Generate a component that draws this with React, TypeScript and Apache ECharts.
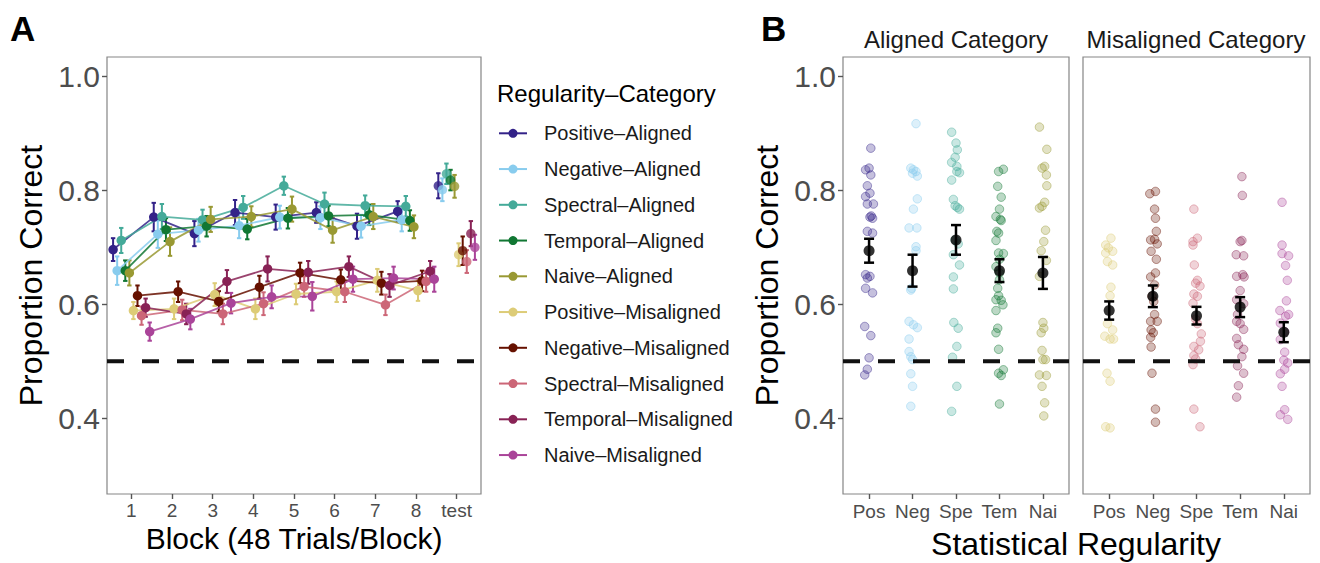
import React, { useEffect, useRef } from "react";
import * as echarts from "echarts";

// ---------- Panel A data ----------
const blockTicks = [1, 2, 3, 4, 5, 6, 7, 8, 9];
const blockLabels = ["1", "2", "3", "4", "5", "6", "7", "8", "test"];
const groupNames = [
  "Positive–Aligned",
  "Negative–Aligned",
  "Spectral–Aligned",
  "Temporal–Aligned",
  "Naive–Aligned",
  "Positive–Misaligned",
  "Negative–Misaligned",
  "Spectral–Misaligned",
  "Temporal–Misaligned",
  "Naive–Misaligned",
];
const groupColors = [
  "#332288", "#88CCEE", "#44AA99", "#117733", "#999933",
  "#DDCC77", "#661100", "#CC6677", "#882255", "#AA4499",
];
// blocks 1..8 then test
const positiveAligned = [0.696, 0.753, 0.724, 0.761, 0.753, 0.761, 0.737, 0.763, 0.808];
const negativeAligned = [0.659, 0.723, 0.73, 0.738, 0.753, 0.752, 0.737, 0.748, 0.801];
const spectralAligned = [0.712, 0.754, 0.748, 0.77, 0.808, 0.776, 0.773, 0.772, 0.829];
const temporalAligned = [0.659, 0.731, 0.737, 0.732, 0.751, 0.755, 0.757, 0.747, 0.818];
const naiveAligned = [0.655, 0.71, 0.749, 0.754, 0.767, 0.73, 0.754, 0.736, 0.807];
const positiveMisaligned = [0.589, 0.592, 0.617, 0.592, 0.618, 0.622, 0.642, 0.624, 0.687];
const negativeMisaligned = [0.615, 0.622, 0.605, 0.63, 0.655, 0.643, 0.637, 0.641, 0.694];
const spectralMisaligned = [0.58, 0.59, 0.583, 0.601, 0.631, 0.622, 0.599, 0.64, 0.675];
const temporalMisaligned = [0.594, 0.583, 0.64, 0.662, 0.656, 0.666, 0.633, 0.658, 0.724];
const naiveMisaligned = [0.552, 0.574, 0.602, 0.613, 0.614, 0.644, 0.646, 0.644, 0.7];

const positiveAlignedSE = [0.02, 0.025, 0.022, 0.022, 0.022, 0.018, 0.022, 0.018, 0.022];
const negativeAlignedSE = [0.025, 0.024, 0.02, 0.022, 0.02, 0.02, 0.02, 0.02, 0.02];
const spectralAlignedSE = [0.022, 0.022, 0.018, 0.02, 0.016, 0.02, 0.018, 0.018, 0.018];
const temporalAlignedSE = [0.018, 0.02, 0.018, 0.018, 0.018, 0.018, 0.018, 0.018, 0.018];
const naiveAlignedSE = [0.022, 0.025, 0.022, 0.018, 0.022, 0.022, 0.022, 0.02, 0.02];
const positiveMisalignedSE = [0.015, 0.018, 0.02, 0.018, 0.018, 0.018, 0.02, 0.018, 0.02];
const negativeMisalignedSE = [0.018, 0.018, 0.018, 0.02, 0.018, 0.018, 0.02, 0.018, 0.025];
const spectralMisalignedSE = [0.016, 0.018, 0.018, 0.02, 0.018, 0.018, 0.018, 0.018, 0.02];
const temporalMisalignedSE = [0.016, 0.018, 0.02, 0.022, 0.02, 0.018, 0.02, 0.018, 0.022];
const naiveMisalignedSE = [0.016, 0.018, 0.018, 0.02, 0.025, 0.022, 0.02, 0.022, 0.022];

const groupMeans = [
  positiveAligned, negativeAligned, spectralAligned, temporalAligned, naiveAligned,
  positiveMisaligned, negativeMisaligned, spectralMisaligned, temporalMisaligned, naiveMisaligned,
];
const groupSE = [
  positiveAlignedSE, negativeAlignedSE, spectralAlignedSE, temporalAlignedSE, naiveAlignedSE,
  positiveMisalignedSE, negativeMisalignedSE, spectralMisalignedSE, temporalMisalignedSE, naiveMisalignedSE,
];

// ---------- Panel B data ----------
const regularityLabels = ["Pos", "Neg", "Spe", "Tem", "Nai"];
const yTicks = [0.4, 0.6, 0.8, 1.0];
// [horizontal jitter (category units), proportion correct]
const alignedPos = [
  [0.04, 0.874], [0, 0.839], [-0.08, 0.836], [0.04, 0.827], [-0.04, 0.808], [0.02, 0.795],
  [-0.08, 0.789], [0.1, 0.776], [-0.04, 0.776], [0.05, 0.755], [0.08, 0.751], [0.02, 0.753],
  [-0.04, 0.728], [0.08, 0.725], [-0.08, 0.652], [0.02, 0.649], [-0.04, 0.646], [-0.08, 0.628],
  [0.08, 0.62], [-0.1, 0.561], [0.04, 0.545], [0, 0.506], [-0.04, 0.486], [-0.1, 0.476],
];
const alignedNeg = [
  [0.08, 0.917], [-0.04, 0.839], [0.02, 0.836], [0.08, 0.833], [0, 0.83], [0.11, 0.825],
  [0.11, 0.785], [0.02, 0.767], [-0.08, 0.734], [0.1, 0.734], [0.08, 0.701], [0.08, 0.694],
  [-0.04, 0.625], [-0.02, 0.628], [-0.08, 0.57], [0.02, 0.564], [0.11, 0.559], [-0.08, 0.539],
  [-0.08, 0.517], [-0.04, 0.508], [0, 0.503], [-0.04, 0.478], [0, 0.456], [-0.04, 0.421],
];
const alignedSpe = [
  [-0.1, 0.902], [0, 0.883], [0.03, 0.871], [-0.02, 0.858], [-0.1, 0.849], [0.02, 0.842],
  [0.08, 0.831], [0.02, 0.833], [-0.1, 0.818], [-0.06, 0.784], [-0.02, 0.773], [0.03, 0.77],
  [0.08, 0.767], [-0.02, 0.713], [0.05, 0.706], [-0.06, 0.687], [0.08, 0.669], [-0.06, 0.648],
  [-0.06, 0.627], [-0.05, 0.568], [0.05, 0.558], [0.02, 0.526], [-0.08, 0.507], [0.02, 0.456],
  [-0.1, 0.412],
];
const alignedTem = [
  [0.09, 0.837], [-0.02, 0.833], [-0.04, 0.807], [0.04, 0.788], [0, 0.767], [-0.08, 0.754],
  [0.02, 0.749], [0.04, 0.747], [-0.06, 0.728], [-0.02, 0.725], [-0.08, 0.712], [-0.02, 0.69],
  [0.09, 0.689], [0, 0.679], [-0.08, 0.666], [0, 0.655], [0, 0.643], [-0.04, 0.628],
  [-0.02, 0.615], [-0.08, 0.608], [0.04, 0.607], [0.08, 0.599], [-0.08, 0.589], [-0.04, 0.558],
  [-0.08, 0.55], [-0.02, 0.521], [0.09, 0.485], [-0.02, 0.479], [0.04, 0.475], [0, 0.425],
];
const alignedNai = [
  [-0.08, 0.911], [0.09, 0.872], [0.04, 0.842], [-0.02, 0.839], [0.08, 0.827], [0.09, 0.808],
  [0.04, 0.779], [-0.08, 0.769], [-0.02, 0.772], [0.06, 0.73], [0.02, 0.71], [-0.04, 0.694],
  [0.08, 0.677], [-0.08, 0.649], [0, 0.568], [-0.04, 0.55], [0.02, 0.558], [-0.02, 0.519],
  [0, 0.503], [0.06, 0.503], [-0.08, 0.476], [0.08, 0.475], [-0.02, 0.456], [0.04, 0.427],
  [0.02, 0.404],
];
const misalignedPos = [
  [0.04, 0.716], [-0.08, 0.704], [-0.02, 0.699], [0.08, 0.693], [-0.08, 0.69], [-0.04, 0.675],
  [0.08, 0.669], [0.04, 0.63], [0.02, 0.615], [-0.04, 0.566], [0.08, 0.555], [-0.1, 0.544],
  [0.02, 0.539], [0.1, 0.539], [-0.05, 0.479], [0.02, 0.465], [-0.08, 0.385], [0.02, 0.383],
];
const misalignedNeg = [
  [-0.07, 0.794], [0.06, 0.798], [0.04, 0.767], [0.06, 0.751], [0.08, 0.728], [-0.05, 0.713],
  [0.04, 0.714], [0.1, 0.706], [-0.04, 0.693], [0.08, 0.679], [0.06, 0.655], [-0.05, 0.648],
  [0.04, 0.634], [-0.02, 0.614], [0.02, 0.605], [0.04, 0.582], [-0.05, 0.57], [0.1, 0.57],
  [-0.04, 0.555], [0.01, 0.55], [-0.05, 0.542], [-0.04, 0.525], [-0.02, 0.479], [0.06, 0.416],
  [0.06, 0.393],
];
const misalignedSpe = [
  [-0.06, 0.767], [0.02, 0.716], [-0.08, 0.71], [-0.08, 0.704], [-0.05, 0.669], [0.02, 0.642],
  [-0.02, 0.637], [0.08, 0.632], [-0.06, 0.618], [0.02, 0.614], [-0.08, 0.602], [-0.02, 0.574],
  [0.02, 0.566], [0.11, 0.548], [0.09, 0.535], [-0.06, 0.526], [0.05, 0.52], [-0.06, 0.51],
  [-0.02, 0.504], [-0.08, 0.494], [-0.06, 0.416], [0.08, 0.385],
];
const misalignedTem = [
  [0.04, 0.824], [0.05, 0.791], [0.04, 0.712], [0, 0.71], [-0.09, 0.687], [0.08, 0.685],
  [-0.08, 0.649], [0.06, 0.652], [0.09, 0.648], [0, 0.624], [-0.08, 0.608], [0.08, 0.601],
  [-0.06, 0.582], [-0.08, 0.57], [0, 0.566], [0.08, 0.556], [-0.08, 0.54], [-0.04, 0.529],
  [0.08, 0.521], [0.04, 0.508], [-0.06, 0.492], [0.08, 0.479], [-0.04, 0.457], [-0.08, 0.437],
];
const misalignedNai = [
  [-0.04, 0.779], [-0.04, 0.704], [-0.04, 0.689], [0.11, 0.685], [0.04, 0.668], [0.08, 0.642],
  [0.06, 0.606], [-0.09, 0.589], [0.11, 0.582], [0.04, 0.579], [-0.08, 0.567], [0.02, 0.552],
  [-0.08, 0.538], [0.02, 0.516], [0, 0.502], [0.09, 0.497], [0.02, 0.486], [-0.08, 0.478],
  [-0.04, 0.456], [0.02, 0.415], [-0.08, 0.406], [0.09, 0.398],
];
const alignedMeans = [0.694, 0.659, 0.713, 0.659, 0.655];
const alignedMeanSE = [0.021, 0.028, 0.026, 0.02, 0.028];
const misalignedMeans = [0.589, 0.614, 0.58, 0.595, 0.551];
const misalignedMeanSE = [0.016, 0.019, 0.0155, 0.0175, 0.0175];

const chanceLevel = 0.5;

const FONT = "'Liberation Sans', Arial, Helvetica, sans-serif";

function rgba(hex: string, a: number) {
  const n = parseInt(hex.slice(1), 16);
  return `rgba(${(n >> 16) & 255},${(n >> 8) & 255},${n & 255},${a})`;
}

function errorBarRender(color: string, capHalf: number, lw: number) {
  return (_params: any, api: any) => {
    const x = api.value(0);
    const lo = api.coord([x, api.value(1)]);
    const hi = api.coord([x, api.value(2)]);
    const style = { stroke: color, lineWidth: lw };
    return {
      type: "group",
      children: [
        { type: "line", shape: { x1: lo[0], y1: lo[1], x2: hi[0], y2: hi[1] }, style },
        { type: "line", shape: { x1: lo[0] - capHalf, y1: lo[1], x2: lo[0] + capHalf, y2: lo[1] }, style },
        { type: "line", shape: { x1: hi[0] - capHalf, y1: hi[1], x2: hi[0] + capHalf, y2: hi[1] }, style },
      ],
    };
  };
}

export default function App() {
  const ref = useRef<HTMLDivElement>(null);

  useEffect(() => {
    if (!ref.current) return;
    const chart = echarts.init(ref.current, null, { renderer: "svg" });

    const Y_MIN = 0.267;
    const Y_MAX = 1.034;
    const tickStyle = { color: "#555", width: 1.4 };
    const gridStyle = { show: true, borderColor: "#858585", borderWidth: 1.2, backgroundColor: "transparent" };

    const yAxisBase = (gridIndex: number, showLabels: boolean) => ({
      gridIndex,
      type: "value",
      min: Y_MIN,
      max: Y_MAX,
      axisLine: { show: false },
      splitLine: { show: false },
      axisTick: { show: showLabels, customValues: yTicks, length: 5, lineStyle: tickStyle },
      axisLabel: {
        show: showLabels,
        customValues: yTicks,
        formatter: (v: number) => v.toFixed(1),
        fontSize: 30,
        color: "#4d4d4d",
        fontFamily: FONT,
        margin: 7,
      },
      name: showLabels ? "Proportion Correct" : "",
      nameLocation: "middle",
      nameRotate: 90,
      nameGap: 60,
      nameTextStyle: { fontSize: 32, color: "#000", fontFamily: FONT },
    });

    const series: any[] = [];

    // ---- Panel A ----
    groupNames.forEach((name, gi) => {
      const off = (gi - 4.5) * 0.1;
      const color = groupColors[gi];
      const means = groupMeans[gi];
      const se = groupSE[gi];
      const bars = blockTicks.map((b, i) => [b + off, means[i] - se[i], means[i] + se[i]]);
      series.push({
        type: "custom",
        name: name + " SE",
        xAxisIndex: 0,
        yAxisIndex: 0,
        renderItem: errorBarRender(color, 2.2, 2),
        encode: { x: 0, y: [1, 2] },
        data: bars,
        silent: true,
        z: 2,
      });
      series.push({
        type: "line",
        name,
        xAxisIndex: 0,
        yAxisIndex: 0,
        data: means.slice(0, 8).map((v, i) => [blockTicks[i] + off, v]),
        symbol: "circle",
        symbolSize: 9.5,
        showSymbol: true,
        itemStyle: { color },
        lineStyle: { color, width: 1.8, opacity: 0.85 },
        z: 3,
      });
      series.push({
        type: "scatter",
        name: name + " test",
        xAxisIndex: 0,
        yAxisIndex: 0,
        data: [[blockTicks[8] + off, means[8]]],
        symbol: "circle",
        symbolSize: 9.5,
        itemStyle: { color },
        z: 3,
      });
    });

    // chance lines
    const dashed = (xi: number, xmin: number, xmax: number) => ({
      type: "line",
      xAxisIndex: xi,
      yAxisIndex: xi,
      data: [[xmin, chanceLevel], [xmax, chanceLevel]],
      symbol: "none",
      lineStyle: { color: "#111", width: 4, type: [17, 18] },
      silent: true,
      z: 5,
    });
    series.push(dashed(0, 0.4, 9.6));

    // ---- Panel B ----
    const alignedSets = [alignedPos, alignedNeg, alignedSpe, alignedTem, alignedNai];
    const misalignedSets = [misalignedPos, misalignedNeg, misalignedSpe, misalignedTem, misalignedNai];
    [alignedSets, misalignedSets].forEach((sets, pi) => {
      const axisIdx = pi + 1;
      sets.forEach((pts, ci) => {
        const color = groupColors[pi * 5 + ci];
        series.push({
          type: "scatter",
          name: groupNames[pi * 5 + ci] + " participants",
          xAxisIndex: axisIdx,
          yAxisIndex: axisIdx,
          data: pts.map((p) => [ci + 1 + p[0], p[1]]),
          symbol: "circle",
          symbolSize: 8.5,
          itemStyle: { color: rgba(color, 0.36), borderColor: rgba(color, 0.55), borderWidth: 1 },
          z: 2,
        });
      });
      const means = pi === 0 ? alignedMeans : misalignedMeans;
      const ses = pi === 0 ? alignedMeanSE : misalignedMeanSE;
      series.push(dashed(axisIdx, 0.4, 5.6));
      series.push({
        type: "custom",
        name: "mean SE",
        xAxisIndex: axisIdx,
        yAxisIndex: axisIdx,
        renderItem: errorBarRender("#000", 5, 2.5),
        encode: { x: 0, y: [1, 2] },
        data: means.map((m, i) => [i + 1, m - ses[i], m + ses[i]]),
        silent: true,
        z: 6,
      });
      series.push({
        type: "scatter",
        name: "mean",
        xAxisIndex: axisIdx,
        yAxisIndex: axisIdx,
        data: means.map((m, i) => [i + 1, m]),
        symbol: "circle",
        symbolSize: 11,
        itemStyle: { color: "#000" },
        z: 7,
      });
    });

    // legend graphics
    const legendChildren: any[] = [
      {
        type: "text",
        x: 497,
        y: 93,
        style: { text: "Regularity–Category", fontSize: 24, fontFamily: FONT, fill: "#000", textVerticalAlign: "middle" },
      },
    ];
    groupNames.forEach((name, gi) => {
      const y = 133.3 + gi * 35.75;
      legendChildren.push({ type: "line", shape: { x1: 499, y1: y, x2: 527, y2: y }, style: { stroke: groupColors[gi], lineWidth: 2 } });
      legendChildren.push({ type: "circle", shape: { cx: 513, cy: y, r: 4.5 }, style: { fill: groupColors[gi] } });
      legendChildren.push({
        type: "text",
        x: 544,
        y,
        style: { text: name, fontSize: 20, fontFamily: FONT, fill: "#1a1a1a", textVerticalAlign: "middle" },
      });
    });

    const xAxisB = (gridIndex: number) => ({
      gridIndex,
      type: "value",
      min: 0.4,
      max: 5.6,
      axisLine: { show: false },
      splitLine: { show: false },
      axisTick: { show: true, customValues: [1, 2, 3, 4, 5], length: 5, lineStyle: tickStyle },
      axisLabel: {
        customValues: [1, 2, 3, 4, 5],
        formatter: (v: number) => regularityLabels[Math.round(v) - 1] ?? "",
        fontSize: 19,
        color: "#4d4d4d",
        fontFamily: FONT,
        margin: 8,
      },
    });

    const option: any = {
      animation: false,
      backgroundColor: "#fff",
      textStyle: { fontFamily: FONT },
      grid: [
        { left: 107, top: 57, width: 374, height: 437, ...gridStyle },
        { left: 843, top: 57, width: 226, height: 437, ...gridStyle },
        { left: 1083, top: 57, width: 227, height: 437, ...gridStyle },
      ],
      xAxis: [
        {
          gridIndex: 0,
          type: "value",
          min: 0.4,
          max: 9.6,
          axisLine: { show: false },
          splitLine: { show: false },
          axisTick: { show: true, customValues: blockTicks, length: 5, lineStyle: tickStyle },
          axisLabel: {
            customValues: blockTicks,
            formatter: (v: number) => blockLabels[Math.round(v) - 1] ?? "",
            fontSize: 19,
            color: "#4d4d4d",
            fontFamily: FONT,
            margin: 7,
          },
        },
        xAxisB(1),
        xAxisB(2),
      ],
      yAxis: [yAxisBase(0, true), yAxisBase(1, true), yAxisBase(2, false)],
      series,
      graphic: [
        { type: "text", x: 10, y: 28, style: { text: "A", fontSize: 35, fontWeight: "bold", fontFamily: FONT, fill: "#000", textVerticalAlign: "middle" } },
        { type: "text", x: 761, y: 28, style: { text: "B", fontSize: 35, fontWeight: "bold", fontFamily: FONT, fill: "#000", textVerticalAlign: "middle" } },
        { type: "text", x: 294, y: 538, style: { text: "Block (48 Trials/Block)", fontSize: 30, fontFamily: FONT, fill: "#000", textAlign: "center", textVerticalAlign: "middle" } },
        { type: "text", x: 1076, y: 544, style: { text: "Statistical Regularity", fontSize: 32, fontFamily: FONT, fill: "#000", textAlign: "center", textVerticalAlign: "middle" } },
        { type: "text", x: 956, y: 39, style: { text: "Aligned Category", fontSize: 24, fontFamily: FONT, fill: "#1a1a1a", textAlign: "center", textVerticalAlign: "middle" } },
        { type: "text", x: 1196, y: 39, style: { text: "Misaligned Category", fontSize: 24, fontFamily: FONT, fill: "#1a1a1a", textAlign: "center", textVerticalAlign: "middle" } },
        { type: "group", children: legendChildren },
      ],
    };

    chart.setOption(option);
    return () => chart.dispose();
  }, []);

  return (
    <div
      ref={ref}
      style={{ position: "fixed", left: 0, top: 0, width: 1320, height: 563, background: "#fff" }}
    />
  );
}
